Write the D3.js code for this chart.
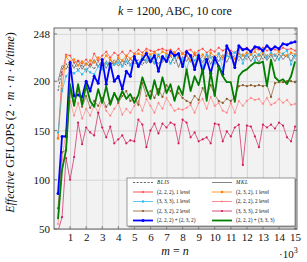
<!DOCTYPE html>
<html>
<head>
<meta charset="utf-8">
<script src="https://cdn.jsdelivr.net/npm/d3@7"></script>
<style>
  body { margin: 0; background: #fff; }
  text { font-family: "Liberation Serif", "DejaVu Serif", serif; fill: #111; }
</style>
</head>
<body>
<svg width="307" height="262"></svg>
<script>
// problem sizes m = n
var sizes = [250, 500, 750, 1000, 1250, 1500, 1750, 2000, 2250, 2500, 2750, 3000,
  3250, 3500, 3750, 4000, 4250, 4500, 4750, 5000, 5250, 5500, 5750, 6000,
  6250, 6500, 6750, 7000, 7250, 7500, 7750, 8000, 8250, 8500, 8750, 9000,
  9250, 9500, 9750, 10000, 10250, 10500, 10750, 11000, 11250, 11500, 11750, 12000,
  12250, 12500, 12750, 13000, 13250, 13500, 13750, 14000, 14250, 14500, 14750, 15000];

var xTicks = [1, 2, 3, 4, 5, 6, 7, 8, 9, 10, 11, 12, 13, 14, 15];
var yTicks = [50, 100, 150, 200, 248];

var blis = [190, 212, 218, 210, 219, 211, 217, 209, 218, 212, 220, 213, 221, 214, 222, 215, 221, 216, 223, 217,
  222, 216, 224, 218, 225, 217, 224, 219, 226, 218, 225, 220, 226, 219, 227, 221, 225, 220, 227, 222,
  226, 221, 227, 223, 226, 221, 228, 222, 227, 223, 228, 222, 227, 224, 228, 223, 227, 224, 228, 223];
var mkl = [200, 216, 212, 220, 213, 221, 212, 219, 214, 222, 215, 221, 213, 222, 216, 223, 215, 224, 217, 223,
  216, 225, 218, 224, 217, 226, 219, 225, 218, 226, 214, 225, 220, 227, 216, 226, 219, 227, 217, 226,
  220, 227, 219, 228, 218, 226, 221, 228, 220, 227, 219, 228, 221, 227, 220, 228, 222, 227, 220, 228];
var s222_1 = [142, 207, 227, 226, 219, 221, 218, 222, 217, 228, 221, 226, 230, 224, 229, 226, 230, 225, 231, 228,
  232, 229, 233, 231, 230, 232, 233, 231, 232, 229, 233, 228, 231, 232, 227, 231, 233, 229, 232, 230,
  234, 231, 233, 231, 229, 233, 232, 234, 231, 233, 232, 234, 231, 233, 232, 231, 234, 232, 233, 231];
var s232_1 = [142, 192, 225, 220, 222, 216, 220, 217, 221, 219, 224, 220, 226, 222, 218, 224, 221, 226, 223, 227,
  228, 226, 230, 227, 229, 226, 230, 228, 226, 229, 224, 228, 226, 221, 229, 223, 227, 222, 229, 225,
  228, 224, 229, 226, 223, 228, 226, 229, 227, 230, 226, 229, 225, 228, 226, 230, 227, 226, 229, 227];
var s333_1 = [148, 190, 205, 210, 208, 211, 207, 212, 209, 207, 215, 212, 218, 214, 217, 219, 215, 220, 216, 222,
  218, 224, 221, 225, 219, 227, 222, 226, 218, 224, 227, 222, 212, 226, 221, 228, 215, 227, 224, 218,
  228, 213, 226, 224, 229, 232, 218, 226, 230, 221, 227, 232, 224, 229, 226, 222, 228, 231, 217, 226];
var s222_2 = [55, 120, 150, 180, 165, 178, 162, 172, 165, 176, 168, 180, 170, 165, 172, 178, 166, 172, 168, 175,
  180, 170, 182, 175, 168, 178, 172, 183, 176, 170, 172, 171, 173, 176, 168, 178, 182, 172, 184, 175,
  178, 170, 168, 178, 168, 180, 175, 180, 183, 181, 182, 177, 183, 176, 178, 182, 178, 181, 176, 177];
var s232_2 = [71, 128, 130, 190, 176, 192, 174, 185, 173, 180, 175, 183, 174, 180, 188, 178, 185, 190, 180, 183,
  176, 198, 185, 190, 183, 192, 184, 196, 190, 182, 188, 183, 180, 178, 185, 181, 193, 185, 196, 186,
  180, 178, 182, 180, 184, 195, 196, 195, 196, 195, 196, 195, 196, 184, 198, 199, 199, 200, 200, 199];
var s333_2 = [48, 62, 122, 100, 123, 158, 136, 153, 148, 145, 168, 153, 143, 154, 137, 141, 145, 137, 140, 139,
  161, 156, 133, 150, 157, 147, 157, 153, 158, 156, 137, 161, 158, 143, 148, 139, 141, 143, 137, 157,
  156, 139, 149, 144, 153, 156, 115, 155, 154, 144, 133, 156, 153, 156, 152, 158, 155, 143, 139, 154];
var s222_232 = [86, 144, 144, 219, 185, 186, 184, 200, 190, 205, 198, 222, 197, 218, 200, 205, 192, 210, 205, 225,
  215, 222, 228, 220, 226, 210, 225, 220, 230, 226, 228, 215, 230, 226, 212, 226, 209, 222, 208, 224,
  215, 207, 236, 228, 214, 236, 232, 233, 230, 235, 234, 231, 236, 232, 235, 233, 238, 237, 239, 240];
var s222_333 = [60, 110, 130, 197, 175, 197, 176, 196, 180, 174, 192, 178, 195, 176, 188, 180, 190, 182, 187, 178,
  186, 204, 192, 182, 201, 186, 204, 188, 197, 180, 195, 186, 212, 190, 205, 196, 212, 180, 209, 185,
  215, 205, 199, 199, 179, 205, 210, 212, 216, 219, 218, 220, 195, 222, 204, 200, 202, 197, 205, 220];

var series = [
  {name: "BLIS", values: blis, color: "#444", width: 0.8, dash: "2.2,1.4", mark: null, col: 0},
  {name: "MKL", values: mkl, color: "#666", width: 0.8, dash: null, mark: null, col: 1},
  {name: "(2, 2, 2), 1 level", values: s222_1, color: "#ff2a2a", width: 0.6, dash: null, mark: "plus", col: 0},
  {name: "(2, 3, 2), 1 level", values: s232_1, color: "#ff8000", width: 0.7, dash: null, mark: "square", col: 1},
  {name: "(3, 3, 3), 1 level", values: s333_1, color: "#33bbee", width: 0.7, dash: null, mark: "square", col: 0},
  {name: "(2, 2, 2), 2 level", values: s222_2, color: "#ff7070", width: 0.6, dash: null, mark: "plus", col: 1},
  {name: "(2, 3, 2), 2 level", values: s232_2, color: "#8b5a2b", width: 0.7, dash: null, mark: "dot", col: 0},
  {name: "(3, 3, 3), 2 level", values: s333_2, color: "#d01c5c", width: 0.7, dash: null, mark: "dot", col: 1},
  {name: "(2, 2, 2) + (2, 3, 2)", values: s222_232, color: "#0000ff", width: 1.8, dash: null, mark: "dot", col: 0},
  {name: "(2, 2, 2) + (3, 3, 3)", values: s222_333, color: "#007f00", width: 1.8, dash: null, mark: null, col: 1}
];

var svg = d3.select("svg"),
    pL = 54, pR = 297, pT = 28, pB = 229;

var x = d3.scaleLinear().domain([0, 15.12]).range([pL, pR]);
var y = d3.scaleLinear().domain([50, 254]).range([pB, pT]);

svg.append("rect")
    .attr("x", pL).attr("y", pT)
    .attr("width", pR - pL).attr("height", pB - pT)
    .attr("fill", "#f2f2f2");

// grid
svg.append("g")
    .attr("transform", "translate(0," + pB + ")")
    .call(d3.axisBottom(x).tickValues(xTicks).tickSize(-(pB - pT)).tickFormat(""))
    .call(function(g) { g.select(".domain").remove(); })
    .selectAll("line").attr("stroke", "#cfcfcf").attr("stroke-width", 0.8);
svg.append("g")
    .attr("transform", "translate(" + pL + ",0)")
    .call(d3.axisLeft(y).tickValues(yTicks).tickSize(-(pR - pL)).tickFormat(""))
    .call(function(g) { g.select(".domain").remove(); })
    .selectAll("line").attr("stroke", "#cfcfcf").attr("stroke-width", 0.8);

// tick labels
svg.append("g")
    .attr("transform", "translate(0," + pB + ")")
    .call(d3.axisBottom(x).tickValues(xTicks).tickSize(0).tickPadding(4))
    .call(function(g) { g.select(".domain").remove(); })
    .selectAll("text").style("font-size", "11px")
    .style("font-family", "Liberation Serif").attr("fill", "#111");
svg.append("g")
    .attr("transform", "translate(" + pL + ",0)")
    .call(d3.axisLeft(y).tickValues(yTicks).tickSize(0).tickPadding(4))
    .call(function(g) { g.select(".domain").remove(); })
    .selectAll("text").style("font-size", "11px")
    .style("font-family", "Liberation Serif").attr("fill", "#111");

// small inner ticks
var tk = svg.append("g").attr("stroke", "#444").attr("stroke-width", 0.6);
xTicks.forEach(function(t) {
  tk.append("line").attr("x1", x(t)).attr("x2", x(t)).attr("y1", pB).attr("y2", pB - 3);
  tk.append("line").attr("x1", x(t)).attr("x2", x(t)).attr("y1", pT).attr("y2", pT + 3);
});
yTicks.forEach(function(t) {
  tk.append("line").attr("x1", pL).attr("x2", pL + 3).attr("y1", y(t)).attr("y2", y(t));
  tk.append("line").attr("x1", pR).attr("x2", pR - 3).attr("y1", y(t)).attr("y2", y(t));
});

svg.append("clipPath").attr("id", "clip")
  .append("rect").attr("x", pL).attr("y", pT)
    .attr("width", pR - pL).attr("height", pB - pT);

var line = d3.line()
    .x(function(d, i) { return x(sizes[i] / 1000); })
    .y(function(d) { return y(d); });

function drawMark(g, type, cx, cy, color, big) {
  if (type == "square") {
    var s = big ? 2.6 : 2.2;
    g.append("rect").attr("x", cx - s / 2).attr("y", cy - s / 2)
      .attr("width", s).attr("height", s).attr("fill", color);
  } else if (type == "plus") {
    g.append("path").attr("d", "M" + (cx - 1.2) + "," + cy + "h2.4M" + cx + "," + (cy - 1.2) + "v2.4")
      .attr("stroke", color).attr("stroke-width", 0.6);
  } else if (type == "dot") {
    g.append("circle").attr("cx", cx).attr("cy", cy).attr("r", big ? 1.5 : 1.1).attr("fill", color);
  }
}

var plot = svg.append("g").attr("clip-path", "url(#clip)");
series.forEach(function(s) {
  var g = plot.append("g");
  g.append("path")
      .datum(s.values)
      .attr("d", line)
      .attr("fill", "none")
      .attr("stroke", s.color)
      .attr("stroke-width", s.width)
      .attr("stroke-dasharray", s.dash)
      .attr("stroke-linejoin", "round");
  if (s.mark) {
    s.values.forEach(function(v, i) {
      drawMark(g, s.mark, x(sizes[i] / 1000), y(v), s.color, s.width > 1);
    });
  }
});

// frame
svg.append("rect")
    .attr("x", pL).attr("y", pT)
    .attr("width", pR - pL).attr("height", pB - pT)
    .attr("fill", "none").attr("stroke", "#444").attr("stroke-width", 0.8);

// legend
var lg = svg.append("g");
lg.append("rect").attr("x", 128.5).attr("y", 179.5).attr("width", 168).attr("height", 48)
  .attr("fill", "#999");
lg.append("rect").attr("x", 127).attr("y", 178).attr("width", 168).attr("height", 48)
  .attr("fill", "#fff").attr("stroke", "#555").attr("stroke-width", 0.6);
series.forEach(function(s, i) {
  var row = Math.floor(i / 2);
  var ly = 182.5 + row * 9.5;
  var lx = s.col == 0 ? 133 : 212;
  lg.append("line").attr("x1", lx).attr("x2", lx + 20).attr("y1", ly).attr("y2", ly)
    .attr("stroke", s.color).attr("stroke-width", s.width > 1 ? 1.8 : 0.8)
    .attr("stroke-dasharray", s.dash);
  if (s.mark) drawMark(lg, s.mark, lx + 10, ly, s.color, s.width > 1);
  var t = lg.append("text").attr("x", lx + 24).attr("y", ly + 1.8)
    .style("font-size", "5.2px").attr("fill", "#333");
  if (s.name == "BLIS" || s.name == "MKL") t.style("font-style", "italic").style("letter-spacing", "0.6px");
  t.text(s.name);
});

// title
var title = svg.append("text").attr("x", 175).attr("y", 15)
    .attr("text-anchor", "middle").style("font-size", "12px");
title.append("tspan").style("font-style", "italic").text("k");
title.append("tspan").text(" = 1200, ABC, 10 core");

// x label
var xl = svg.append("text").attr("x", 175).attr("y", 255)
    .attr("text-anchor", "middle").style("font-size", "12px");
xl.append("tspan").style("font-style", "italic").text("m");
xl.append("tspan").text(" = ");
xl.append("tspan").style("font-style", "italic").text("n");

var ex = svg.append("text").attr("x", 279).attr("y", 258).style("font-size", "11px");
ex.append("tspan").text("·10");
ex.append("tspan").attr("dy", -5).style("font-size", "8px").text("3");

// y label
var yl = svg.append("text")
    .attr("transform", "translate(14," + ((pT + pB) / 2 - 6) + ") rotate(-90)")
    .attr("text-anchor", "middle").style("font-size", "12px");
yl.append("tspan").style("font-style", "italic").text("Effective");
yl.append("tspan").text(" GFLOPS (2 · ");
yl.append("tspan").style("font-style", "italic").text("m");
yl.append("tspan").text(" · ");
yl.append("tspan").style("font-style", "italic").text("n");
yl.append("tspan").text(" · ");
yl.append("tspan").style("font-style", "italic").text("k/time");
yl.append("tspan").text(")");
</script>
</body>
</html>
